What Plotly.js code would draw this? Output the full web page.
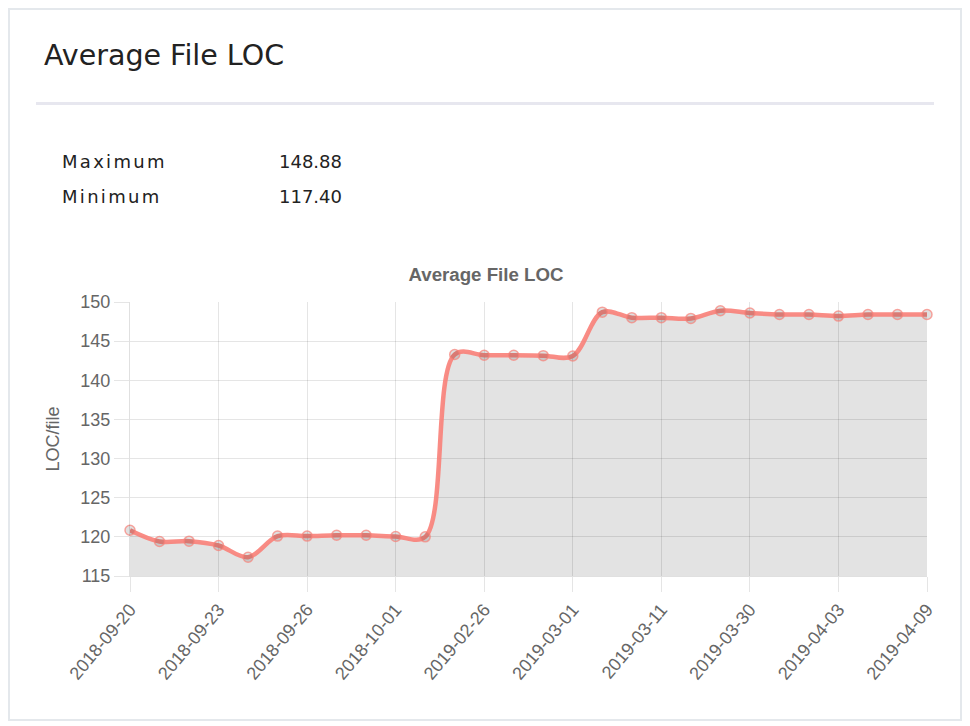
<!DOCTYPE html>
<html>
<head>
<meta charset="utf-8">
<script src="https://cdn.plot.ly/plotly-3.0.1.min.js"></script>
<style>
  html, body { margin: 0; padding: 0; background: #ffffff; }
  body { width: 970px; height: 726px; position: relative; overflow: hidden; }
  #card { position: absolute; left: 8px; top: 8px; width: 954px; height: 713px;
          box-sizing: border-box; border: 2px solid #e4e8ec; }
  .txt { position: absolute; font-family: "DejaVu Sans", sans-serif; color: #222; white-space: nowrap; }
  #hdr { left: 44px; top: 42px; font-size: 28.5px; line-height: 28.5px; }
  #divider { position: absolute; left: 36px; top: 102px; width: 898px; height: 3px; background: #e7e7ef; }
  .lbl { font-size: 18px; line-height: 18px; letter-spacing: 2.3px; left: 62px; }
  .val { font-size: 18px; line-height: 18px; left: 279px; }
  #chart { position: absolute; left: 36px; top: 250px; width: 920px; height: 440px; }
</style>
</head>
<body>
<div id="card"></div>
<div class="txt" id="hdr">Average File LOC</div>
<div id="divider"></div>
<div class="txt lbl" style="top:153px;">Maximum</div>
<div class="txt val" style="top:153px;">148.88</div>
<div class="txt lbl" style="top:188px;">Minimum</div>
<div class="txt val" style="top:188px;">117.40</div>
<div id="chart"></div>
<script>
const dates = [
  "2018-09-20","2018-09-21","2018-09-22","2018-09-23","2018-09-24","2018-09-25",
  "2018-09-26","2018-09-27","2018-09-28","2018-10-01","2018-10-02","2019-02-25",
  "2019-02-26","2019-02-27","2019-02-28","2019-03-01","2019-03-05","2019-03-08",
  "2019-03-11","2019-03-18","2019-03-25","2019-03-30","2019-03-31","2019-04-01",
  "2019-04-03","2019-04-05","2019-04-08","2019-04-09"
];
const avgLoc = [
  120.84, 119.40, 119.45, 118.90, 117.40, 120.10,
  120.10, 120.20, 120.20, 120.05, 120.00, 143.30,
  143.20, 143.20, 143.15, 143.10, 148.70, 148.00,
  148.00, 147.90, 148.88, 148.60, 148.40, 148.40,
  148.20, 148.40, 148.40, 148.40
];
const shownTicks = dates.filter((d, i) => i % 3 === 0);

const trace = {
  x: dates,
  y: avgLoc,
  type: "scatter",
  mode: "lines+markers",
  line: { shape: "spline", smoothing: 1, color: "rgba(248,128,120,0.9)", width: 4.5 },
  marker: { size: 10, color: "rgba(0,0,0,0.12)", line: { color: "rgba(248,128,120,0.7)", width: 1.5 } },
  fill: "tozeroy",
  fillcolor: "rgba(0,0,0,0.11)",
  cliponaxis: false,
  hoverinfo: "x+y"
};

const layout = {
  width: 920, height: 440,
  margin: { l: 94, r: 29, t: 52, b: 114 },
  paper_bgcolor: "rgba(0,0,0,0)",
  plot_bgcolor: "#ffffff",
  showlegend: false,
  font: { family: "Liberation Sans, Arial, sans-serif", size: 18, color: "#666666" },
  title: {
    text: "<b>Average File LOC</b>",
    font: { family: "Liberation Sans, Arial, sans-serif", size: 18.7, color: "#666666" },
    x: 450 / 920, xref: "container", xanchor: "center",
    y: 0.945, yref: "container", yanchor: "middle"
  },
  xaxis: {
    type: "category",
    range: [0, dates.length - 1],
    tickmode: "array",
    tickvals: shownTicks,
    ticktext: shownTicks,
    tickangle: -50,
    showgrid: true,
    gridcolor: "rgba(0,0,0,0.1)",
    gridwidth: 1,
    ticks: "outside",
    ticklen: 15,
    tickcolor: "rgba(0,0,0,0.1)",
    showline: true,
    linecolor: "rgba(0,0,0,0.12)",
    linewidth: 1,
    zeroline: false,
    fixedrange: true
  },
  yaxis: {
    range: [115, 150],
    tick0: 115,
    dtick: 5,
    showgrid: true,
    gridcolor: "rgba(0,0,0,0.1)",
    gridwidth: 1,
    ticks: "outside",
    ticklen: 15,
    tickcolor: "rgba(0,0,0,0.1)",
    showline: true,
    linecolor: "rgba(0,0,0,0.12)",
    linewidth: 1,
    zeroline: false,
    title: { text: "LOC/file", font: { size: 18, color: "#666666" }, standoff: 16 },
    fixedrange: true
  }
};

Plotly.newPlot("chart", [trace], layout, { displayModeBar: false, staticPlot: true });
</script>
</body>
</html>
